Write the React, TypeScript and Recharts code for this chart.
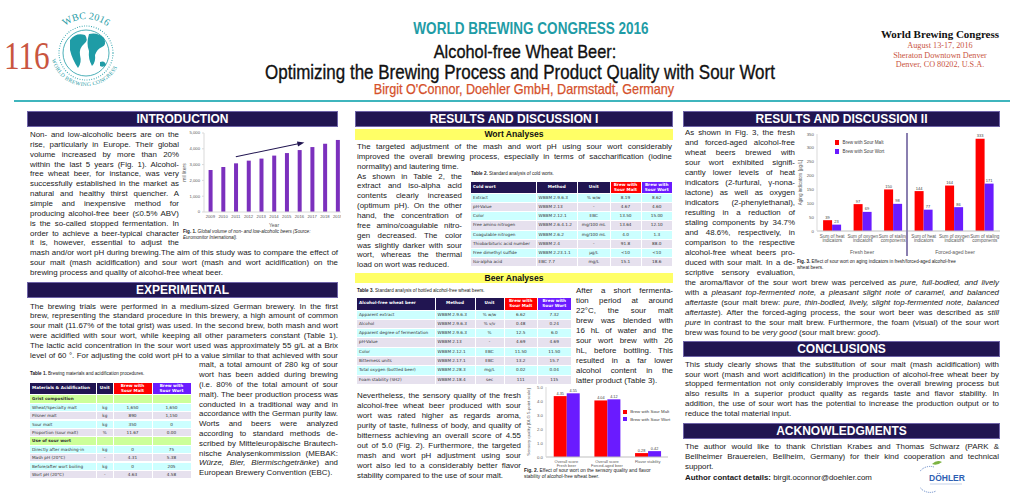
import React from 'react';
import { ComposedChart, BarChart, Bar, Line, XAxis, YAxis, Legend, LabelList } from 'recharts';

const FONT = "'Liberation Sans', Arial, Helvetica, sans-serif";
const SERIF = "'Liberation Serif', 'Times New Roman', serif";
const TFONT = "'DejaVu Sans', Verdana, sans-serif";
const NAVY = '#211551';
const TEAL = '#1f9ca6';
const MALT = '#ff0000';
const WORT = '#6a1bff';
const CYAN = '#ccffff';
const LAV = '#e6e1ee';
const GREEN = '#ccff99';
const YELLOW = '#ffff66';
const INK = '#1a1a1a';
const AXIS = '#595959';

// Fig. 1 - global volume of non- and low-alcoholic beers
const years = ['2009', '2010', '2011', '2012', '2013', '2014', '2015', '2016', '2017', '2018', '2019'];
const volumeMl = [2660, 2850, 3080, 3250, 3380, 3570, 3730, 3920, 4110, 4320, 4560];
const trendMl = [null, null, 3500, null, null, null, null, 4330, null, null, null];
const volTicks = [0, 1000, 2000, 3000, 4000, 5000];

// Fig. 2 - sensory quality
const seriesNames = ['Brew with Sour Malt', 'Brew with Sour Wort'];
const sensoryCats = ['Overall score|Fresh beer', 'Overall score|Forced-aged beer', 'Flavor stability'];
const sensoryMalt = [4.35, 4.04, 0.28];
const sensoryWort = [4.55, 4.12, 0.42];
const sensoryTicks = [0, 1, 2, 3, 4, 5];

// Fig. 3 - aging indicators
const agingIds = ['heatF', 'oxyF', 'staleF', 'heatA', 'oxyA', 'staleA'];
const agingLabels = ['Sum of heat|indicators', 'Sum of oxygen|indicators', 'Sum of staling|components',
  'Sum of heat|indicators', 'Sum of oxygen|indicators', 'Sum of staling|components'];
const agingMalt = [39, 97, 150, 144, 164, 333];
const agingWort = [23, 69, 98, 77, 86, 171];
const agingTicks = [0, 50, 100, 150, 200, 250, 300, 350];

// tables
const t1Head = ['Materials & Acidification', 'Unit', 'Brew with\nSour Malt', 'Brew with\nSour Wort'];
const t1Rows = [
  ['#Grist composition', '', '', ''],
  ['Wheat/Specialty malt', 'kg', '1,650', '1,650'],
  ['Pilsner malt', 'kg', '890', '1,150'],
  ['Sour malt', 'kg', '350', '0'],
  ['Proportion (sour malt)', '%', '11.67', '0.00'],
  ['#Use of sour wort', '', '', ''],
  ['Directly after mashing-in', 'kg', '0', '75'],
  ['Mash pH (20°C)', '-', '4.31', '5.38'],
  ['Before/after wort boiling', 'kg', '0', '205'],
  ['Wort pH (20°C)', '-', '4.63', '4.58'],
];
const t2Head = ['Cold wort', 'Method', 'Unit', 'Brew with\nSour Malt', 'Brew with\nSour Wort'];
const t2Rows = [
  ['Extract', 'WBBM 2.9.6.3', '% w/w', '8.19', '8.62'],
  ['pH-Value', 'WBBM 2.13', '-', '4.67', '4.60'],
  ['Color', 'WBBM 2.12.1', 'EBC', '13.50', '15.00'],
  ['Free amino nitrogen', 'WBBM 2.6.4.1.2', 'mg/100 mL', '13.64', '12.10'],
  ['Coagulable nitrogen', 'WBBM 2.6.2', 'mg/100 mL', '4.0', '1.3'],
  ['Thiobarbituric acid number', 'WBBM 2.4', '-', '91.8', '88.0'],
  ['Free dimethyl sulfide', 'WBBM 2.23.1.1', 'µg/L', '<10', '<10'],
  ['Iso-alpha acid', 'EBC 7.7', 'mg/L', '15.1', '18.6'],
];
const t3Head = ['Alcohol-free wheat beer', 'Method', 'Unit', 'Brew with\nSour Malt', 'Brew with\nSour Wort'];
const t3Rows = [
  ['Apparent extract', 'WBBM 2.9.6.3', '% w/w', '6.62', '7.32'],
  ['Alcohol', 'WBBM 2.9.6.3', '% v/v', '0.48', '0.24'],
  ['Apparent degree of fermentation', 'WBBM 2.9.6.3', '%', '12.5', '6.0'],
  ['pH-Value', 'WBBM 2.13', '-', '4.69', '4.69'],
  ['Color', 'WBBM 2.12.1', 'EBC', '11.50', '11.50'],
  ['Bitterness units', 'WBBM 2.17.1', 'EBC', '13.2', '15.7'],
  ['Total oxygen (bottled beer)', 'WBBM 2.28.3', 'mg/L', '0.02', '0.04'],
  ['Foam stability (SH2)', 'WBBM 2.18.4', 'sec', '111', '115'],
];

// poster text, one entry per printed line
const introNarrow = [
  'Non- and low-alcoholic beers are on the',
  'rise, particularly in Europe. Their global',
  'volume increased by more than 20%',
  'within the last 5 years (Fig. 1). Alcohol-',
  'free wheat beer, for instance, was very',
  'successfully established in the market as',
  'natural and healthy thirst quencher. A',
  'simple and inexpensive method for',
  'producing alcohol-free beer (≤0.5% ABV)',
  'is the so-called stopped fermentation. In',
  'order to achieve a beer-typical character',
  'it is, however, essential to adjust the',
];
const introWide = [
  'mash and/or wort pH during brewing.The aim of this study was to compare the effect of',
  'sour malt (mash acidification) and sour wort (mash and wort acidification) on the',
  'brewing process and quality of alcohol-free wheat beer.',
];
const expWide = [
  'The brewing trials were performed in a medium-sized German brewery. In the first',
  'brew, representing the standard procedure in this brewery, a high amount of common',
  'sour malt (11.67% of the total grist) was used. In the second brew, both mash and wort',
  'were acidified with sour wort, while keeping all other parameters constant (Table 1).',
  'The lactic acid concentration in the sour wort used was approximately 55 g/L at a Brix',
  'level of 60 °. For adjusting the cold wort pH to a value similar to that achieved with sour',
];
const expNarrow = [
  'malt, a total amount of 280 kg of sour',
  'wort has been added during brewing',
  '(i.e. 80% of the total amount of sour',
  'malt). The beer production process was',
  'conducted in a traditional way and in',
  'accordance with the German purity law.',
  'Worts and beers were analyzed',
  'according to standard methods de-',
  'scribed by Mitteleuropäische Brautech-',
  'nische Analysenkommission (MEBAK:',
  '*Würze, Bier, Biermischgetränke*) and',
  'European Brewery Convention (EBC).',
];
const wortWide = [
  'The targeted adjustment of the mash and wort pH using sour wort considerably',
  'improved the overall brewing process, especially in terms of saccharification (iodine',
];
const wortShort = ['normality) and lautering time.'];
const wortNarrow = [
  'As shown in Table 2, the',
  'extract and iso-alpha acid',
  'contents clearly increased',
  '(optimum pH). On the other',
  'hand, the concentration of',
  'free amino/coagulable nitro-',
  'gen decreased. The color',
  'was slightly darker with sour',
  'wort, whereas the thermal',
  'load on wort was reduced.',
];
const beerSide = [
  'After a short fermenta-',
  'tion period at around',
  '22°C, the sour malt',
  'brew was blended with',
  '16 hL of water and the',
  'sour wort brew with 26',
  'hL, before bottling. This',
  'resulted in a far lower',
  'alcohol content in the',
  'latter product (Table 3).',
];
const sensoryText = [
  'Nevertheless, the sensory quality of the fresh',
  'alcohol-free wheat beer produced with sour',
  'wort was rated higher as regards aroma,',
  'purity of taste, fullness of body, and quality of',
  'bitterness achieving an overall score of 4.55',
  'out of 5.0 (Fig. 2). Furthermore, the targeted',
  'mash and wort pH adjustment using sour',
  'wort also led to a considerably better flavor',
  'stability compared to the use of sour malt.',
];
const res2Narrow = [
  'As shown in Fig. 3, the fresh',
  'and forced-aged alcohol-free',
  'wheat beers brewed with',
  'sour wort exhibited signifi-',
  'cantly lower levels of heat',
  'indicators (2-furfural, γ-nona-',
  'lactone) as well as oxygen',
  'indicators (2-phenylethanal),',
  'resulting in a reduction of',
  'staling components by 34.7%',
  'and 48.6%, respectively, in',
  'comparison to the respective',
  'alcohol-free wheat beers pro-',
  'duced with sour malt. In a de-',
  'scriptive sensory evaluation,',
];
const res2Wide = [
  'the aroma/flavor of the sour wort brew was perceived as *pure, full-bodied, and lively*',
  'with a *pleasant top-fermented note, a pleasant slight note of caramel, and balanced*',
  '*aftertaste* (sour malt brew: *pure, thin-bodied, lively, slight top-fermented note, balanced*',
  '*aftertaste*). After the forced-aging process, the sour wort beer was described as *still*',
  '*pure* in contrast to the sour malt brew. Furthermore, the foam (visual) of the sour wort',
  'brew was found to be *very good* (sour malt brew: *good*).',
];
const conclusionText = [
  'This study clearly shows that the substitution of sour malt (mash acidification) with',
  'sour wort (mash and wort acidification) in the production of alcohol-free wheat beer by',
  'stopped fermentation not only considerably improves the overall brewing process but',
  'also results in a superior product quality as regards taste and flavor stability. In',
  'addition, the use of sour wort has the potential to increase the production output or to',
  'reduce the total material input.',
];
const ackText = [
  'The author would like to thank Christian Krabes and Thomas Schwarz (PARK &',
  'Bellheimer Brauereien, Bellheim, Germany) for their kind cooperation and technical',
  'support.',
];

const fig1Data = years.map((year, i) => ({ year, volume: volumeMl[i], trend: trendMl[i] }));
const fig2Data = sensoryCats.map((cat, i) => ({ cat, malt: sensoryMalt[i], wort: sensoryWort[i] }));
const fig3Data = agingIds.map((id, i) => ({ id, malt: agingMalt[i], wort: agingWort[i] }));
const agingLabelOf: Record<string, string> = {};
agingIds.forEach((id, i) => { agingLabelOf[id] = agingLabels[i]; });

// '*' toggles italic, '^' toggles bold
function rich(s: string) {
  const out: React.ReactNode[] = [];
  let it = false, bd = false, buf = '';
  const flush = (k: number) => {
    if (buf) out.push(<span key={k} style={{ fontStyle: it ? 'italic' : 'normal', fontWeight: bd ? 700 : 400 }}>{buf}</span>);
    buf = '';
  };
  for (let i = 0; i < s.length; i++) {
    const c = s[i];
    if (c === '*') { flush(i); it = !it; }
    else if (c === '^') { flush(i); bd = !bd; }
    else buf += c;
  }
  flush(s.length);
  return out;
}

function Para({ x, y, w, lines, lh = 9.85, fs = 7.9, lastLeft = true }: any) {
  return (
    <>
      {lines.map((ln: string, i: number) => {
        const left = lastLeft && i === lines.length - 1;
        return (
          <div key={i} style={{
            position: 'absolute', left: x, top: y + i * lh - lh / 2, width: w, height: lh,
            lineHeight: lh + 'px', fontSize: fs, fontFamily: FONT, color: INK, whiteSpace: 'nowrap',
            textAlign: left ? 'left' : 'justify', textAlignLast: left ? 'left' : 'justify',
          } as React.CSSProperties}>{rich(ln)}</div>
        );
      })}
    </>
  );
}

function SectionBar({ x, y, w, title }: any) {
  return (
    <div style={{
      position: 'absolute', left: x, top: y, width: w, height: 16, boxSizing: 'border-box',
      background: NAVY, border: '1px solid #6f64a8', color: '#fff', fontFamily: FONT,
      fontWeight: 700, fontSize: 12, lineHeight: '14px', textAlign: 'center',
    }}>{title}</div>
  );
}

function SubBar({ x, y, w, title }: any) {
  return (
    <div style={{
      position: 'absolute', left: x, top: y, width: w, height: 10.5, background: YELLOW,
      fontFamily: FONT, fontWeight: 700, fontSize: 8.6, lineHeight: '10.5px', textAlign: 'center', color: '#111',
    }}>{title}</div>
  );
}

function Caption({ x, y, w, children, fs = 4.6 }: any) {
  return (
    <div style={{
      position: 'absolute', left: x, top: y, width: w, fontFamily: FONT, fontSize: fs,
      lineHeight: fs * 1.3 + 'px', color: '#222', whiteSpace: 'nowrap',
    }}>{children}</div>
  );
}

function DataTable({ x, y, cols, headH, rowH, head, headBg, rows, align, fs = 4.2, resetAfterSection = false }: any) {
  const lefts: number[] = [];
  let acc = 0;
  cols.forEach((c: number) => { lefts.push(acc); acc += c; });
  const cells: React.ReactNode[] = [];
  head.forEach((h: string, c: number) => {
    cells.push(
      <div key={'h' + c} style={{
        position: 'absolute', left: x + lefts[c], top: y, width: cols[c] - 1, height: headH - 1,
        background: headBg[c], color: '#fff', fontWeight: 700, fontFamily: TFONT, fontSize: fs,
        lineHeight: fs * 1.15 + 'px', whiteSpace: 'pre-line', display: 'flex', alignItems: 'center',
        justifyContent: c === 0 ? 'flex-start' : 'center',
        textAlign: c === 0 ? 'left' : 'center', paddingLeft: c === 0 ? 2 : 0, boxSizing: 'border-box',
      }}>{h}</div>
    );
  });
  let k = 0;
  rows.forEach((row: string[], r: number) => {
    const section = row[0].startsWith('#');
    let bg = GREEN;
    if (!section) { bg = k % 2 === 0 ? CYAN : LAV; k++; } else if (resetAfterSection) { k = 0; }
    row.forEach((v: string, c: number) => {
      const txt = c === 0 && section ? v.slice(1) : v;
      cells.push(
        <div key={r + '-' + c} style={{
          position: 'absolute', left: x + lefts[c], top: y + headH + r * rowH, width: cols[c] - 1, height: rowH - 1,
          background: bg, color: '#333', fontWeight: section ? 700 : 400, fontFamily: TFONT, fontSize: fs,
          lineHeight: rowH - 1 + 'px', whiteSpace: 'nowrap', overflow: 'hidden',
          textAlign: align[c], paddingLeft: align[c] === 'left' ? 2 : 0, boxSizing: 'border-box',
        }}>{txt}</div>
      );
    });
  });
  return <>{cells}</>;
}

const ArrowHead = (p: any) => {
  if (p.index !== 7 || p.cy == null || p.cx == null) return <g key={'a' + p.index} />;
  return (
    <path key={'a' + p.index} d="M 5 0 L -2 -2.6 L -2 2.6 Z"
      transform={`translate(${p.cx},${p.cy}) rotate(-12)`} fill={NAVY} />
  );
};

const twoLineTick = (labelOf: (v: string) => string, fs: number) => (p: any) => {
  const lines = labelOf(p.payload.value).split('|');
  return (
    <g transform={`translate(${p.x},${p.y})`}>
      {lines.map((l, i) => (
        <text key={i} x={0} y={fs * (i + 0.9)} textAnchor="middle" fontSize={fs} fill={AXIS} fontFamily={FONT}>{l}</text>
      ))}
    </g>
  );
};

const legendBox = (fs: number, lh: number) => (props: any) => {
  const payload = props.payload && props.payload.length ? props.payload : seriesNames.map((n, i) => ({ value: n, color: i ? WORT : MALT }));
  return (
    <div style={{ fontFamily: FONT, fontSize: fs, color: '#404040', lineHeight: lh + 'px' }}>
      {payload.map((e: any) => (
        <div key={e.value} style={{ display: 'flex', alignItems: 'center', whiteSpace: 'nowrap' }}>
          <span style={{ display: 'inline-block', width: fs * 0.95, height: fs * 0.95, background: e.color, marginRight: fs * 0.7 }} />
          {e.value}
        </div>
      ))}
    </div>
  );
};

const tickStyle = (fs: number) => ({ fontSize: fs, fill: AXIS, fontFamily: FONT });

function Fig1() {
  return (
    <div style={{ position: 'absolute', left: 178, top: 127, width: 163, height: 104, overflow: 'hidden' }}>
      <ComposedChart width={170} height={104} data={fig1Data} margin={{ top: 6, right: 4, bottom: 0, left: 4 }} barCategoryGap="36%">
        <XAxis dataKey="year" height={19} interval={0} tick={tickStyle(4.2)} tickSize={2} tickMargin={1}
          axisLine={{ stroke: '#d9d9d9' }} tickLine={false}
          label={{ value: 'Year', position: 'insideBottom', offset: 4, fontSize: 5, fill: AXIS, fontFamily: FONT }} />
        <YAxis width={22} domain={[0, 5000]} ticks={volTicks} tickFormatter={(v: number) => v.toLocaleString('en-US')}
          tick={tickStyle(4.2)} tickSize={2} tickMargin={2} axisLine={{ stroke: '#d9d9d9' }} tickLine={{ stroke: '#d9d9d9' }}
          label={{ value: 'mil liters', angle: -90, position: 'insideLeft', offset: 2, style: { textAnchor: 'middle' }, fontSize: 5, fill: AXIS, fontFamily: FONT }} />
        <Bar dataKey="volume" fill="#7b30bd" isAnimationActive={false} />
        <Line dataKey="trend" stroke={NAVY} strokeWidth={1.1} connectNulls dot={ArrowHead} activeDot={false} isAnimationActive={false} />
      </ComposedChart>
    </div>
  );
}

function Fig2() {
  return (
    <div style={{ position: 'absolute', left: 521, top: 382 }}>
      <BarChart width={152} height={90} data={fig2Data} margin={{ top: 5, right: 5, bottom: 0, left: 3 }} barCategoryGap="19%" barGap={0}>
        <XAxis dataKey="cat" height={15} interval={0} tick={twoLineTick((v) => v, 4)} tickSize={1} tickMargin={1}
          axisLine={{ stroke: '#bfbfbf' }} tickLine={false} />
        <YAxis width={22} domain={[0, 5]} ticks={sensoryTicks} tickFormatter={(v: number) => v.toFixed(1)}
          tick={tickStyle(4.3)} tickSize={1} tickMargin={2} axisLine={{ stroke: '#d9d9d9' }} tickLine={false}
          label={{ value: 'Sensory quality [DLG 5-point scale]', angle: -90, position: 'insideLeft', offset: 4, style: { textAnchor: 'middle' }, fontSize: 4.3, fill: AXIS, fontFamily: FONT }} />
        <Legend layout="horizontal" verticalAlign="middle" align="center" content={legendBox(4.4, 7.5)}
          wrapperStyle={{ left: 102, top: 26, width: 'auto', height: 'auto' }} />
        <Bar dataKey="malt" name={seriesNames[0]} fill={MALT} isAnimationActive={false}>
          <LabelList dataKey="malt" position="top" offset={1.5} fontSize={3.8} fill="#404040" fontFamily={FONT} formatter={(v: any) => Number(v).toFixed(2)} />
        </Bar>
        <Bar dataKey="wort" name={seriesNames[1]} fill={WORT} isAnimationActive={false}>
          <LabelList dataKey="wort" position="top" offset={1.5} fontSize={3.8} fill="#404040" fontFamily={FONT} formatter={(v: any) => Number(v).toFixed(2)} />
        </Bar>
      </BarChart>
    </div>
  );
}

function Fig3() {
  return (
    <div style={{ position: 'absolute', left: 795, top: 129 }}>
      <BarChart width={207} height={121} data={fig3Data} margin={{ top: 5, right: 2, bottom: 0, left: 4 }} barCategoryGap="20%" barGap={0}>
        <XAxis dataKey="id" height={19} interval={0} tick={twoLineTick((v) => agingLabelOf[v] || v, 4.6)} tickSize={1} tickMargin={1.5}
          axisLine={{ stroke: '#bfbfbf' }} tickLine={false} />
        <YAxis width={18} domain={[0, 350]} ticks={agingTicks} tick={tickStyle(4.4)} tickSize={1} tickMargin={2}
          axisLine={{ stroke: '#d9d9d9' }} tickLine={false}
          label={{ value: 'Aging indicators [µg/L]', angle: -90, position: 'insideLeft', offset: 1, style: { textAnchor: 'middle' }, fontSize: 4.6, fill: AXIS, fontFamily: FONT }} />
        <Legend layout="horizontal" verticalAlign="middle" align="center" content={legendBox(4.6, 9)}
          wrapperStyle={{ left: 40, top: 9, width: 'auto', height: 'auto' }} />
        <Bar dataKey="malt" name={seriesNames[0]} fill={MALT} isAnimationActive={false}>
          <LabelList dataKey="malt" position="top" offset={1.5} fontSize={4} fill="#404040" fontFamily={FONT} />
        </Bar>
        <Bar dataKey="wort" name={seriesNames[1]} fill={WORT} isAnimationActive={false}>
          <LabelList dataKey="wort" position="top" offset={1.5} fontSize={4} fill="#404040" fontFamily={FONT} />
        </Bar>
      </BarChart>
    </div>
  );
}

function WbcLogo() {
  return (
    <svg style={{ position: 'absolute', left: 47, top: 1 }} width={78} height={100} viewBox="0 0 78 100">
      <defs>
        <path id="wbcTop" d="M 5 52 A 34 34 0 0 1 73 52" />
        <path id="wbcBot" d="M 4 46 A 35 35 0 0 0 74 54" />
      </defs>
      <circle cx={39} cy={52} r={27} fill="none" stroke={TEAL} strokeWidth={1.1} strokeDasharray="0.8 1.6" />
      <circle cx={39} cy={52} r={23} fill="#fff" stroke={TEAL} strokeWidth={0.8} />
      <path d="M 23 39 Q 29 31 38 34 Q 42 39 37 43 Q 32 47 33 54 Q 35 62 31 67 Q 25 58 23 49 Z" fill={TEAL} />
      <path d="M 42 33 Q 51 31 57 37 Q 60 44 55 46 Q 50 48 48 54 Q 49 61 45 65 Q 41 58 42 50 Q 39 43 42 33 Z" fill={TEAL} />
      <path d="M 53 61 Q 58 59 59 64 Q 56 67 53 65 Z" fill={TEAL} />
      <text fontFamily={SERIF} fontSize={10} fill={TEAL}>
        <textPath href="#wbcTop" startOffset="50%" textAnchor="middle">WBC 2016</textPath>
      </text>
      <text fontFamily={SERIF} fontSize={5.6} fill={TEAL} letterSpacing={0.3}>
        <textPath href="#wbcBot" startOffset="50%" textAnchor="middle">WORLD BREWING CONGRESS</textPath>
      </text>
    </svg>
  );
}

function DoehlerLogo() {
  return (
    <svg style={{ position: 'absolute', left: 920, top: 459 }} width={48} height={36} viewBox="0 0 48 36">
      <path d="M 14 8 A 13 13 0 1 0 16 32" fill="none" stroke="#3a67b8" strokeWidth={1} strokeDasharray="0.8 1.2" />
      <path d="M 12 5 Q 17 0 22 3 Q 17 7 12 5 Z" fill="#7cb342" />
      <text x={9} y={22} fontFamily={FONT} fontWeight={700} fontSize={8.5} fill="#2f5fb3">DÖHLER</text>
      <line x1={10} y1={25} x2={42} y2={25} stroke="#9fb3d9" strokeWidth={0.6} />
    </svg>
  );
}

function HeadLine({ cx, y, fs, color, weight = 400, sx = 0.86, stroke = 0, children }: any) {
  return (
    <div style={{
      position: 'absolute', left: cx - 400, top: y - fs * 0.6, width: 800, textAlign: 'center', fontFamily: FONT,
      fontSize: fs, fontWeight: weight, color, lineHeight: fs * 1.2 + 'px', whiteSpace: 'nowrap',
      transform: `scaleX(${sx})`, transformOrigin: 'center',
      WebkitTextStroke: stroke ? `${stroke}px ${color}` : undefined,
    } as React.CSSProperties}>{children}</div>
  );
}

export default function App() {
  return (
    <div style={{ position: 'absolute', left: 0, top: 0, width: 1020, height: 498, overflow: 'hidden', background: '#fff' }}>
      {/* header */}
      <div style={{
        position: 'absolute', left: 4, top: 34, fontFamily: SERIF, fontSize: 40, color: '#c9553f', lineHeight: '44px',
        transform: 'scaleX(0.78)', transformOrigin: 'left',
      }}>116</div>
      <WbcLogo />
      <HeadLine cx={531} y={29} fs={16.5} color={TEAL} weight={700} sx={0.82}>WORLD BREWING CONGRESS 2016</HeadLine>
      <HeadLine cx={525} y={52} fs={19} color="#111" sx={0.86} stroke={0.35}>Alcohol-free Wheat Beer:</HeadLine>
      <HeadLine cx={520} y={73} fs={19.5} color="#111" sx={0.87} stroke={0.35}>Optimizing the Brewing Process and Product Quality with Sour Wort</HeadLine>
      <HeadLine cx={524} y={90} fs={14.5} color="#d5512b" sx={0.87} stroke={0.25}>Birgit O'Connor, Doehler GmbH, Darmstadt, Germany</HeadLine>
      <div style={{ position: 'absolute', left: 868, top: 28, width: 144, textAlign: 'center', fontFamily: SERIF, color: '#c9553f', fontSize: 8.2, lineHeight: '9.5px' }}>
        <div style={{ color: '#111', fontWeight: 700, fontSize: 11, lineHeight: '13px' }}>World Brewing Congress</div>
        <div>August 13-17, 2016</div>
        <div>Sheraton Downtown Denver</div>
        <div>Denver, CO 80202, U.S.A.</div>
      </div>
      <div style={{ position: 'absolute', left: 14, top: 100, width: 996, height: 2, background: '#3fb5bd' }} />

      {/* left column */}
      <SectionBar x={27} y={111} w={311} title="INTRODUCTION" />
      <Para x={30} y={135} w={149} lines={introNarrow} lastLeft={false} />
      <Para x={30} y={135 + 12 * 9.85} w={308} lines={introWide} />
      <Fig1 />
      <Caption x={183} y={229} w={160} fs={4.6}>
        <b>Fig. 1.</b> <i>Global volume of non- and low-alcoholic beers (Source:</i><br /><i>Euromonitor International).</i>
      </Caption>

      <SectionBar x={27} y={282} w={311} title="EXPERIMENTAL" />
      <Para x={30} y={306.5} w={308} lines={expWide} lh={9.8} lastLeft={false} />
      <Para x={199} y={306.5 + 6 * 9.8} w={139} lines={expNarrow} lh={9.8} />
      <Caption x={30} y={371} w={170} fs={4.6}><b>Table 1.</b> Brewing materials and acidification procedures.</Caption>
      <DataTable x={30} y={383} cols={[67, 16.5, 39, 39]} headH={12.3} rowH={8.4} head={t1Head}
        headBg={[NAVY, NAVY, MALT, WORT]} rows={t1Rows} align={['left', 'center', 'center', 'center']} fs={4.2} resetAfterSection />

      {/* middle column */}
      <SectionBar x={355} y={111} w={318} title="RESULTS AND DISCUSSION I" />
      <SubBar x={355} y={129} w={318} title="Wort Analyses" />
      <Para x={357} y={147} w={315} lines={wortWide} lastLeft={false} />
      <Para x={357} y={147 + 2 * 9.85} w={200} lines={wortShort} />
      <Para x={357} y={147 + 3 * 9.85} w={105} lines={wortNarrow} />
      <Caption x={471} y={170.5} w={200} fs={4.6}><b>Table 2.</b> Standard analysis of cold worts.</Caption>
      <DataTable x={471} y={182} cols={[65.5, 41.5, 32.5, 31, 31.5]} headH={12} rowH={9.15} head={t2Head}
        headBg={[NAVY, NAVY, NAVY, MALT, WORT]} rows={t2Rows} align={['left', 'left', 'center', 'center', 'center']} fs={4.2} />

      <SubBar x={355} y={272.5} w={318} title="Beer Analyses" />
      <Caption x={357} y={287.5} w={200} fs={4.6}><b>Table 3.</b> Standard analysis of bottled alcohol-free wheat beers.</Caption>
      <DataTable x={357} y={298} cols={[78.5, 40, 29, 33.5, 33.5]} headH={12.5} rowH={9.3} head={t3Head}
        headBg={[NAVY, NAVY, NAVY, MALT, WORT]} rows={t3Rows} align={['left', 'left', 'center', 'center', 'center']} fs={4.2} />
      <Para x={576} y={291} w={97} lines={beerSide} lh={9.95} />
      <Para x={357} y={396} w={164} lines={sensoryText} lh={10} />
      <Fig2 />
      <Caption x={524} y={467.5} w={150} fs={4.9}>
        <b>Fig. 2.</b> Effect of sour wort on the sensory quality and flavor<br />stability of alcohol-free wheat beer.
      </Caption>

      {/* right column */}
      <SectionBar x={683} y={111} w={317} title="RESULTS AND DISCUSSION II" />
      <Para x={685} y={133} w={110} lines={res2Narrow} lh={10} lastLeft={false} />
      <Para x={685} y={283} w={314} lines={res2Wide} lh={10} />
      <Fig3 />
      <div style={{ position: 'absolute', left: 906, top: 133, width: 1.6, height: 123, background: '#8a7fb0' }} />
      <div style={{ position: 'absolute', left: 832, top: 249, width: 60, textAlign: 'center', fontFamily: FONT, fontSize: 5, color: AXIS }}>Fresh beer</div>
      <div style={{ position: 'absolute', left: 925, top: 249, width: 60, textAlign: 'center', fontFamily: FONT, fontSize: 5, color: AXIS }}>Forced-aged beer</div>
      <Caption x={797} y={259} w={205} fs={4.6}>
        <b>Fig. 3.</b> Effect of sour wort on aging indicators in fresh/forced-aged alcohol-free<br />wheat beers.
      </Caption>

      <SectionBar x={683} y={341} w={317} title="CONCLUSIONS" />
      <Para x={685} y={364.7} w={314} lines={conclusionText} lh={9.8} />
      <SectionBar x={683} y={423} w={317} title="ACKNOWLEDGMENTS" />
      <Para x={685} y={447.3} w={314} lines={ackText} lh={10} />
      <Para x={685} y={477.6} w={314} lines={['^Author contact details:^ birgit.oconnor@doehler.com']} />
      <DoehlerLogo />
    </div>
  );
}
